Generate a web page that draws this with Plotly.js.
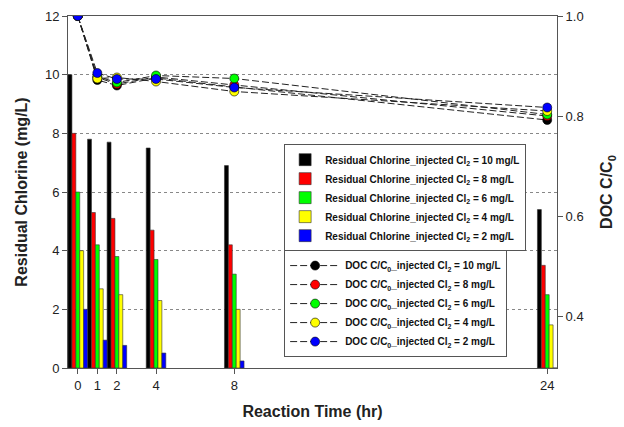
<!DOCTYPE html>
<html>
<head>
<meta charset="utf-8">
<script src="https://cdn.plot.ly/plotly-3.0.1.min.js"></script>
<style>html,body{margin:0;padding:0;background:#fff;}#chart{width:624px;height:427px;}</style>
</head>
<body>
<div id="chart"></div>
<script>
// Reaction times (hr)
const times = [0, 1, 2, 4, 8, 24];
const tickLabels = ['0', '1', '2', '4', '8', '24'];
const doses = ['10', '8', '6', '4', '2'];
const colors = ['#000000', '#ff0000', '#00ff00', '#ffff00', '#0000ff'];

// Residual chlorine (mg/L)
const cl10 = [10.0, 7.8, 7.7, 7.5, 6.9, 5.4];
const cl8  = [8.0, 5.3, 5.1, 4.7, 4.2, 3.5];
const cl6  = [6.0, 4.2, 3.8, 3.7, 3.2, 2.5];
const cl4  = [4.0, 2.7, 2.5, 2.3, 2.0, 1.47];
const cl2  = [2.0, 0.95, 0.77, 0.51, 0.24, 0.0];

// DOC C/C0
const doc10 = [1.0, 0.872, 0.861, 0.876, 0.858, 0.792];
const doc8  = [1.0, 0.877, 0.864, 0.878, 0.862, 0.800];
const doc6  = [1.0, 0.879, 0.867, 0.881, 0.875, 0.803];
const doc4  = [1.0, 0.875, 0.877, 0.869, 0.849, 0.810];
const doc2  = [1.0, 0.886, 0.874, 0.874, 0.857, 0.817];

const clSeries = [cl10, cl8, cl6, cl4, cl2];
const docSeries = [doc10, doc8, doc6, doc4, doc2];

const FONT = '"Liberation Sans", Arial, sans-serif';
const traces = [];
clSeries.forEach((vals, i) => {
  traces.push({
    type: 'bar', x: times, y: vals, yaxis: 'y',
    name: 'Residual Chlorine_injected Cl<sub>2</sub> = ' + doses[i] + ' mg/L',
    marker: {color: colors[i], line: {color: '#333', width: 0.6}},
    legend: 'legend', hoverinfo: 'x+y'
  });
});
docSeries.forEach((vals, i) => {
  traces.push({
    type: 'scatter', mode: 'lines+markers', x: times, y: vals, yaxis: 'y2',
    name: 'DOC C/C<sub>0</sub>_injected Cl<sub>2</sub> = ' + doses[i] + ' mg/L',
    line: {color: '#222', width: 1, dash: '7px,3px'},
    marker: {color: colors[i], size: 9, line: {color: '#000', width: 0.6}},
    legend: 'legend2'
  });
});

const layout = {
  width: 624, height: 427,
  margin: {l: 68, r: 67, t: 16, b: 59},
  paper_bgcolor: '#fff', plot_bgcolor: '#fff',
  font: {family: FONT, color: '#222', size: 13},
  barmode: 'group', bargap: 0, bargroupgap: 0,
  showlegend: true,
  xaxis: {
    range: [-0.5, 24.5], tickvals: times, ticktext: tickLabels,
    showline: true, linecolor: '#555', linewidth: 1, mirror: true,
    ticks: 'outside', ticklen: 5, tickcolor: '#555',
    showgrid: false, zeroline: false,
    tickfont: {size: 13, family: FONT},
    title: {text: '<b>Reaction Time (hr)</b>', font: {size: 16, family: FONT, color: '#222'}, standoff: 14}
  },
  yaxis: {
    range: [0, 12], dtick: 2,
    showline: true, linecolor: '#555', linewidth: 1,
    ticks: 'outside', ticklen: 5, tickcolor: '#555',
    showgrid: true, gridcolor: '#888', griddash: 'dot', gridwidth: 1,
    zeroline: false,
    tickfont: {size: 13, family: FONT},
    title: {text: '<b>Residual Chlorine (mg/L)</b>', font: {size: 16, family: FONT, color: '#222'}, standoff: 13}
  },
  yaxis2: {
    overlaying: 'y', side: 'right', range: [0.296, 1.0],
    tickvals: [0.4, 0.6, 0.8, 1.0], tickformat: '.1f',
    showline: true, linecolor: '#555', linewidth: 1,
    ticks: 'outside', ticklen: 5, tickcolor: '#555',
    showgrid: false, zeroline: false,
    tickfont: {size: 13, family: FONT},
    title: {text: '<b>DOC C/C<sub>0</sub></b>', font: {size: 16, family: FONT, color: '#222'}, standoff: 18}
  },
  legend: {
    x: 0.442, y: 0.636, xanchor: 'left', yanchor: 'top',
    bgcolor: '#fff', bordercolor: '#555', borderwidth: 1,
    font: {size: 10, family: FONT, color: '#111', weight: 'bold'},
    traceorder: 'normal', itemwidth: 30
  },
  legend2: {
    x: 0.442, y: 0.335, xanchor: 'left', yanchor: 'top',
    bgcolor: '#fff', bordercolor: '#555', borderwidth: 1,
    font: {size: 10, family: FONT, color: '#111', weight: 'bold'},
    traceorder: 'normal', itemwidth: 50
  }
};

Plotly.newPlot('chart', traces, layout, {displayModeBar: false, staticPlot: true});
</script>
</body>
</html>
